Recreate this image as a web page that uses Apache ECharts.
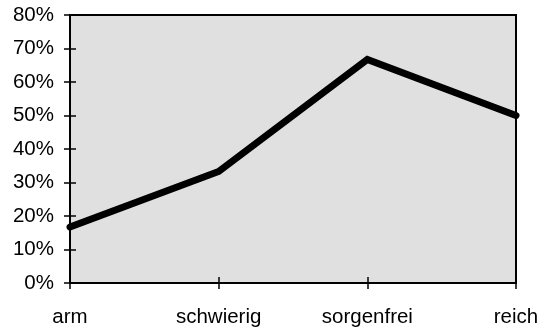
<!DOCTYPE html>
<html>
<head>
<meta charset="utf-8">
<script src="https://cdn.jsdelivr.net/npm/echarts@6/dist/echarts.min.js"></script>
<style>
  html, body { margin: 0; padding: 0; background: #fff; }
  #chart { width: 542px; height: 332px; }
</style>
</head>
<body>
<div id="chart"></div>
<script>
// Categories along the x axis
const categories = ['arm', 'schwierig', 'sorgenfrei', 'reich'];
// Share for each category, in percent
const shares = [16.7, 33.3, 66.7, 50];
// Y axis range and step, in percent
const yMin = 0;
const yMax = 80;
const yStep = 10;

const font = 'Liberation Sans, Arial, sans-serif';
const chart = echarts.init(document.getElementById('chart'), null, { renderer: 'canvas' });

const tickStyle = { color: '#000', width: 1.5 };

chart.setOption({
  animation: false,
  backgroundColor: '#fff',
  grid: {
    left: 70, right: 26, top: 15, bottom: 49,
    show: true,
    backgroundColor: '#e0e0e0',
    borderColor: '#000',
    borderWidth: 2
  },
  xAxis: [
    {
      type: 'category',
      data: categories,
      boundaryGap: false,
      axisLine: { lineStyle: { color: '#000', width: 2 } },
      axisTick: { length: 6, lineStyle: tickStyle },
      axisLabel: { color: '#000', fontFamily: font, fontSize: 20.5, margin: 24 },
      splitLine: { show: false }
    },
    {
      type: 'category',
      data: categories,
      boundaryGap: false,
      position: 'bottom',
      axisLine: { show: false },
      axisTick: { inside: true, length: 6, lineStyle: tickStyle },
      axisLabel: { show: false },
      splitLine: { show: false }
    }
  ],
  yAxis: [
    {
      type: 'value',
      min: yMin, max: yMax, interval: yStep,
      axisLine: { show: true, lineStyle: { color: '#000', width: 2 } },
      axisTick: { show: true, length: 6, lineStyle: tickStyle },
      axisLabel: { color: '#000', fontFamily: font, fontSize: 20.5, margin: 16, formatter: '{value}%' },
      splitLine: { show: false }
    },
    {
      type: 'value',
      min: yMin, max: yMax, interval: yStep,
      position: 'left',
      axisLine: { show: false },
      axisTick: { show: true, inside: true, length: 6, lineStyle: tickStyle },
      axisLabel: { show: false },
      splitLine: { show: false }
    }
  ],
  series: [
    {
      type: 'line',
      data: shares,
      xAxisIndex: 0,
      yAxisIndex: 0,
      symbol: 'none',
      lineStyle: { color: '#000', width: 7, cap: 'round', join: 'miter' }
    }
  ]
});
</script>
</body>
</html>
